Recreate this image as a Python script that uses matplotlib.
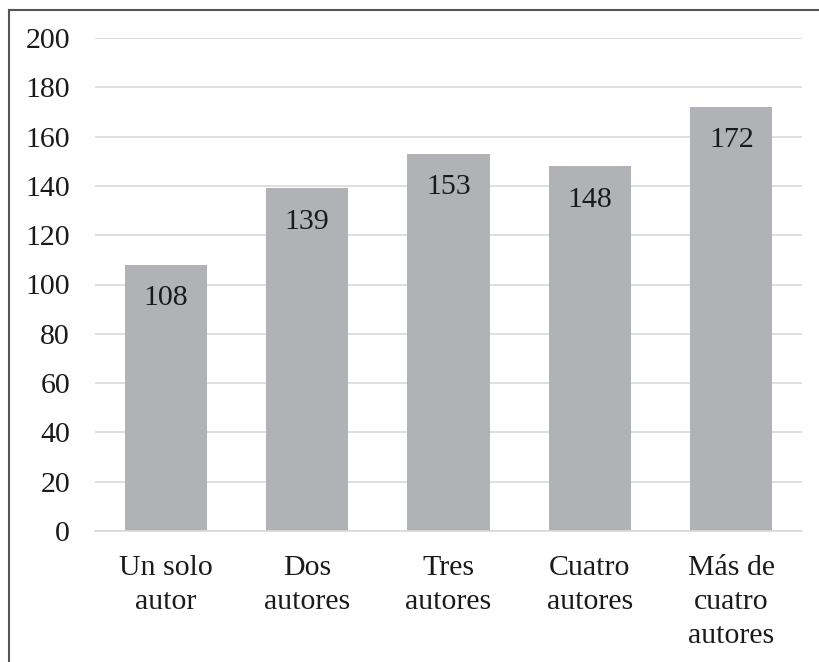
import matplotlib.pyplot as plt
from matplotlib.lines import Line2D

plt.rcParams['font.family'] = ['Liberation Serif', 'DejaVu Serif']

categories = ['Un solo\nautor', 'Dos\nautores', 'Tres\nautores', 'Cuatro\nautores', 'Más de\ncuatro\nautores']
values = [108, 139, 153, 148, 172]
yticks = list(range(0, 201, 20))

fig = plt.figure(figsize=(8.19, 6.62), dpi=100)
ax = fig.add_axes([95 / 819, 1 - 531 / 662, (802 - 95) / 819, (531 - 38) / 662])

x = list(range(len(categories)))
bars = ax.bar(x, values, width=0.58, color='#b1b2b6', zorder=2)
for b, v in zip(bars, values):
    ax.annotate(str(v), (b.get_x() + b.get_width() / 2, v), xytext=(0, -24),
                textcoords='offset points', ha='center', va='center',
                fontsize=21.5, color='#1a1a1a')

ax.set_xlim(-0.5, len(categories) - 0.5)
ax.set_ylim(0, 200)
ax.set_yticks(yticks)
ax.set_xticks(x)
ax.set_xticklabels(categories, linespacing=1.38)
ax.yaxis.grid(True, color='#d9d9d9', linewidth=1.2, zorder=0)
ax.set_axisbelow(True)
for s in ['top', 'right', 'left']:
    ax.spines[s].set_visible(False)
ax.spines['bottom'].set_color('#d9d9d9')
ax.spines['bottom'].set_linewidth(1.2)
ax.tick_params(axis='both', length=0, labelsize=21.5, colors='#1a1a1a')
ax.tick_params(axis='y', pad=18)
ax.tick_params(axis='x', pad=17.5)

# frame round the figure (top and left visible)
fig.add_artist(Line2D([9 / 819, 9 / 819], [0, 1 - 9.5 / 662], transform=fig.transFigure,
                      color='#555555', linewidth=1.5))
fig.add_artist(Line2D([9 / 819, 1], [1 - 9.5 / 662, 1 - 9.5 / 662], transform=fig.transFigure,
                      color='#555555', linewidth=1.5))

fig.savefig('out.png', dpi=100)
